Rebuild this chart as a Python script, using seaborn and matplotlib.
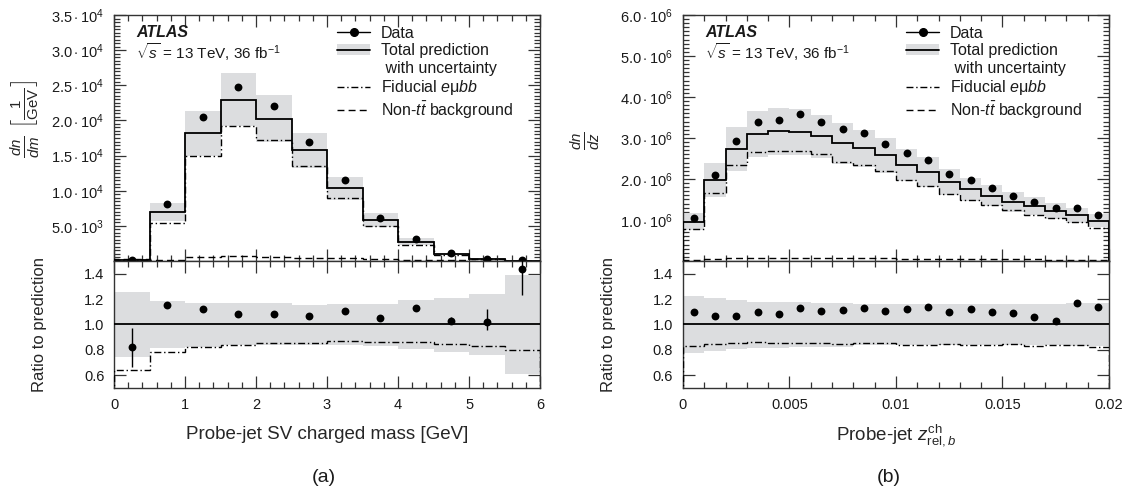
import numpy as np
import matplotlib
matplotlib.use('Agg')
import matplotlib.pyplot as plt
from matplotlib.lines import Line2D
from matplotlib.patches import Patch
from matplotlib.ticker import MultipleLocator, FixedLocator, AutoMinorLocator
import seaborn as sns

# ---- panel (a): probe-jet SV charged mass, 0.5 GeV bins ----
edges_m = [0, 0.5, 1, 1.5, 2, 2.5, 3, 3.5, 4, 4.5, 5, 5.5, 6]
total_m = [150, 6970, 18170, 22910, 20260, 15800, 10340, 5880, 2750, 1000, 330, 60]
data_m = [125, 8060, 20450, 24760, 22060, 16940, 11480, 6170, 3080, 1090, 340, 85]
fid_m = [95, 5460, 14900, 19210, 17220, 13520, 8920, 5030, 2230, 800, 270, 45]
bkg_m = [220, 200, 620, 640, 600, 480, 380, 250, 150, 80, 50, 20]
unc_up_m = [1.257, 1.187, 1.171, 1.169, 1.169, 1.155, 1.158, 1.161, 1.195, 1.208, 1.239, 1.39]
unc_dn_m = [0.745, 0.816, 0.826, 0.836, 0.836, 0.840, 0.840, 0.834, 0.805, 0.787, 0.758, 0.613]
ratio_m = [0.823, 1.15, 1.125, 1.08, 1.086, 1.07, 1.106, 1.049, 1.13, 1.031, 1.023, 1.44]
ratio_err_lo_m = [0.16, 0.005, 0.005, 0.005, 0.005, 0.005, 0.005, 0.005, 0.008, 0.03, 0.065, 0.21]
ratio_err_hi_m = [0.15, 0.005, 0.005, 0.005, 0.005, 0.005, 0.005, 0.005, 0.008, 0.03, 0.10, 0.25]
fid_ratio_m = [0.642, 0.787, 0.823, 0.842, 0.855, 0.857, 0.87, 0.865, 0.862, 0.849, 0.831, 0.80]

# ---- panel (b): probe-jet z_rel,b, 0.001 bins (values in units of 1e6) ----
edges_z = [0.001 * i for i in range(21)]
total_z = [0.963, 1.976, 2.735, 3.10, 3.167, 3.15, 3.045, 2.873, 2.751, 2.58,
           2.343, 2.171, 1.935, 1.747, 1.592, 1.437, 1.347, 1.224, 1.110, 0.98]
data_z = [1.045, 2.106, 2.922, 3.396, 3.445, 3.584, 3.380, 3.216, 3.127, 2.849,
          2.637, 2.465, 2.131, 1.984, 1.780, 1.584, 1.437, 1.282, 1.290, 1.127]
fid_z = [0.784, 1.665, 2.343, 2.653, 2.694, 2.686, 2.612, 2.416, 2.351, 2.204,
         1.976, 1.829, 1.633, 1.486, 1.363, 1.241, 1.118, 1.053, 0.939, 0.816]
bkg_z = [0.03, 0.06, 0.065, 0.068, 0.07, 0.07, 0.068, 0.066, 0.065, 0.063,
         0.06, 0.058, 0.055, 0.05, 0.048, 0.045, 0.04, 0.035, 0.03, 0.028]
unc_up_z = [1.221, 1.208, 1.195, 1.179, 1.179, 1.179, 1.169, 1.169, 1.161, 1.164,
            1.164, 1.164, 1.164, 1.164, 1.164, 1.164, 1.164, 1.164, 1.166, 1.166]
unc_dn_z = [0.779, 0.792, 0.805, 0.818, 0.818, 0.820, 0.826, 0.826, 0.836, 0.836,
            0.836, 0.836, 0.836, 0.836, 0.836, 0.836, 0.836, 0.836, 0.834, 0.834]
ratio_z = [1.096, 1.07, 1.068, 1.096, 1.086, 1.13, 1.106, 1.112, 1.132, 1.104,
           1.125, 1.135, 1.099, 1.122, 1.099, 1.091, 1.06, 1.026, 1.17, 1.14]
ratio_err_z = [0.02, 0.01, 0.01, 0.01, 0.01, 0.01, 0.01, 0.01, 0.01, 0.01,
               0.01, 0.01, 0.01, 0.01, 0.01, 0.01, 0.01, 0.01, 0.02, 0.02]
fid_ratio_z = [0.83, 0.849, 0.852, 0.86, 0.855, 0.855, 0.852, 0.849, 0.852, 0.852,
               0.84, 0.84, 0.844, 0.84, 0.839, 0.849, 0.831, 0.836, 0.835, 0.825]

ticks_m = [5e3, 1e4, 1.5e4, 2e4, 2.5e4, 3e4, 3.5e4]
ticklabels_m = [r'$5.0\cdot10^{3}$', r'$1.0\cdot10^{4}$', r'$1.5\cdot10^{4}$', r'$2.0\cdot10^{4}$',
                r'$2.5\cdot10^{4}$', r'$3.0\cdot10^{4}$', r'$3.5\cdot10^{4}$']
ticks_z = [1e6, 2e6, 3e6, 4e6, 5e6, 6e6]
ticklabels_z = [r'$1.0\cdot10^{6}$', r'$2.0\cdot10^{6}$', r'$3.0\cdot10^{6}$',
                r'$4.0\cdot10^{6}$', r'$5.0\cdot10^{6}$', r'$6.0\cdot10^{6}$']
ratio_ticks = [0.6, 0.8, 1.0, 1.2, 1.4]
ratio_ticklabels = ['0.6', '0.8', '1.0', '1.2', '1.4']

sns.set_style('ticks')
plt.rcParams['font.family'] = ['Liberation Sans', 'DejaVu Sans']
plt.rcParams['mathtext.fontset'] = 'custom'
plt.rcParams['mathtext.rm'] = 'Liberation Sans'
plt.rcParams['mathtext.it'] = 'Liberation Sans:italic'
plt.rcParams['mathtext.bf'] = 'Liberation Sans:bold'
plt.rcParams['text.color'] = '#1a1a1a'
plt.rcParams['axes.edgecolor'] = '#333333'

BAND = '#dcdddf'
DASHDOT = (0, (5, 2, 1, 2))
DASH = (0, (5, 3))

fig = plt.figure(figsize=(11.3, 4.93), dpi=100)


def style_axis(ax):
    for s in ax.spines.values():
        s.set_linewidth(1.0)
    ax.tick_params(which='both', direction='in', top=True, right=True,
                   colors='#333333', labelcolor='#1a1a1a', labelsize=10.5)
    ax.tick_params(which='major', length=8.5, width=0.9)
    ax.tick_params(which='minor', length=4.3, width=0.9)
    ax.tick_params(axis='y', pad=7)


def panel(left, edges, total, data, fid, bkg, up, dn, ratio, err_lo, err_hi, fid_ratio,
          ymax, yticks, yticklabels, xmajor, xminor, xticklabels, ylabel, xlabel,
          ylab_x, ylab_y, xlab_y, tag, tag_x):
    edges = np.asarray(edges)
    centers = 0.5 * (edges[1:] + edges[:-1])
    total = np.asarray(total)
    ax = fig.add_axes([left, 0.4706, 0.377, 0.499])
    rax = fig.add_axes([left, 0.213, 0.377, 0.2576], sharex=ax)

    # main panel
    ax.stairs(total * np.asarray(up), edges, baseline=total * np.asarray(dn),
              fill=True, color=BAND, lw=0, zorder=1)
    ax.stairs(total, edges, color='black', lw=1.3, zorder=3)
    ax.stairs(fid, edges, color='black', lw=1.0, ls=DASHDOT, zorder=3)
    ax.stairs(bkg, edges, color='black', lw=1.0, ls=DASH, zorder=3)
    sns.scatterplot(x=centers, y=data, color='black', s=32, edgecolor='black',
                    linewidth=0, zorder=5, ax=ax)
    ax.set_ylim(0, ymax)
    ax.set_xlim(edges[0], edges[-1])
    ax.yaxis.set_major_locator(FixedLocator(yticks))
    ax.set_yticklabels(yticklabels)
    ax.yaxis.set_minor_locator(AutoMinorLocator(10))
    ax.xaxis.set_major_locator(MultipleLocator(xmajor))
    ax.xaxis.set_minor_locator(MultipleLocator(xminor))
    ax.tick_params(labelbottom=False)
    ax.set_ylabel(ylabel, fontsize=15.5)
    ax.yaxis.set_label_coords(ylab_x, ylab_y)
    style_axis(ax)

    ax.text(0.052, 0.93, 'ATLAS', transform=ax.transAxes, fontsize=11.5,
            fontweight='bold', fontstyle='italic', va='center', ha='left')
    ax.text(0.052, 0.848, r'$\sqrt{s}$ = 13 TeV, 36 fb$^{-1}$', transform=ax.transAxes,
            fontsize=11, va='center', ha='left')

    handles = [
        Line2D([], [], color='black', marker='o', ms=5.5, lw=1.0),
        (Patch(facecolor=BAND, edgecolor='none'), Line2D([], [], color='black', lw=1.3)),
        Line2D([], [], alpha=0),
        Line2D([], [], color='black', lw=1.0, ls=DASHDOT),
        Line2D([], [], color='black', lw=1.0, ls=DASH),
    ]
    labels = ['Data', 'Total prediction', ' with uncertainty',
              r'Fiducial $e\mathrm{\mu}bb$', r'Non-$t\bar{t}$ background']
    ax.legend(handles, labels, loc='upper left', bbox_to_anchor=(0.523, 0.955),
              frameon=False, fontsize=11.5, borderpad=0, borderaxespad=0,
              handlelength=2.1, handletextpad=0.65, labelspacing=0.15)

    # ratio panel
    rax.stairs(up, edges, baseline=dn, fill=True, color=BAND, lw=0, zorder=1)
    rax.axhline(1.0, color='black', lw=1.3, zorder=3)
    rax.stairs(fid_ratio, edges, color='black', lw=1.0, ls=DASHDOT, zorder=3)
    rax.errorbar(centers, ratio, yerr=[err_lo, err_hi], fmt='none', ecolor='black',
                 elinewidth=1.0, capsize=0, zorder=4)
    sns.scatterplot(x=centers, y=ratio, color='black', s=32, edgecolor='black',
                    linewidth=0, zorder=5, ax=rax)
    rax.set_ylim(0.5, 1.5)
    rax.yaxis.set_major_locator(FixedLocator(ratio_ticks))
    rax.set_yticklabels(ratio_ticklabels)
    rax.yaxis.set_minor_locator(FixedLocator([]))
    rax.xaxis.set_minor_locator(MultipleLocator(xminor))
    rax.set_xticks(np.arange(len(xticklabels)) * xmajor)
    rax.set_xticklabels(xticklabels)
    rax.set_xlim(edges[0], edges[-1])
    rax.set_ylabel('Ratio to prediction', fontsize=12)
    rax.yaxis.set_label_coords(-0.157, 0.5)
    rax.set_xlabel(xlabel, fontsize=13.5)
    rax.xaxis.set_label_coords(0.5, xlab_y)
    style_axis(rax)
    rax.tick_params(axis='x', pad=7)

    fig.text(tag_x, 0.032, tag, ha='center', va='center', fontsize=14)


panel(0.1009, edges_m, total_m, data_m, fid_m, bkg_m, unc_up_m, unc_dn_m,
      ratio_m, ratio_err_lo_m, ratio_err_hi_m, fid_ratio_m,
      3.5e4, ticks_m, ticklabels_m, 1.0, 0.2, ['0', '1', '2', '3', '4', '5', '6'],
      r'$\frac{dn}{dm}\ \left[\frac{1}{\mathrm{GeV}}\right]$',
      'Probe-jet SV charged mass [GeV]', -0.17, 0.577, -0.30, '(a)', 324 / 1130)

panel(0.6044, edges_z, np.asarray(total_z) * 1e6, np.asarray(data_z) * 1e6,
      np.asarray(fid_z) * 1e6, np.asarray(bkg_z) * 1e6, unc_up_z, unc_dn_z,
      ratio_z, ratio_err_z, ratio_err_z, fid_ratio_z,
      6e6, ticks_z, ticklabels_z, 0.005, 0.001, ['0', '0.005', '0.01', '0.015', '0.02'],
      r'$\frac{dn}{dz}$',
      r'Probe-jet $z^{\mathrm{ch}}_{\mathrm{rel},b}$', -0.19, 0.49, -0.27, '(b)', 889 / 1130)

fig.savefig('out.png', dpi=100)
